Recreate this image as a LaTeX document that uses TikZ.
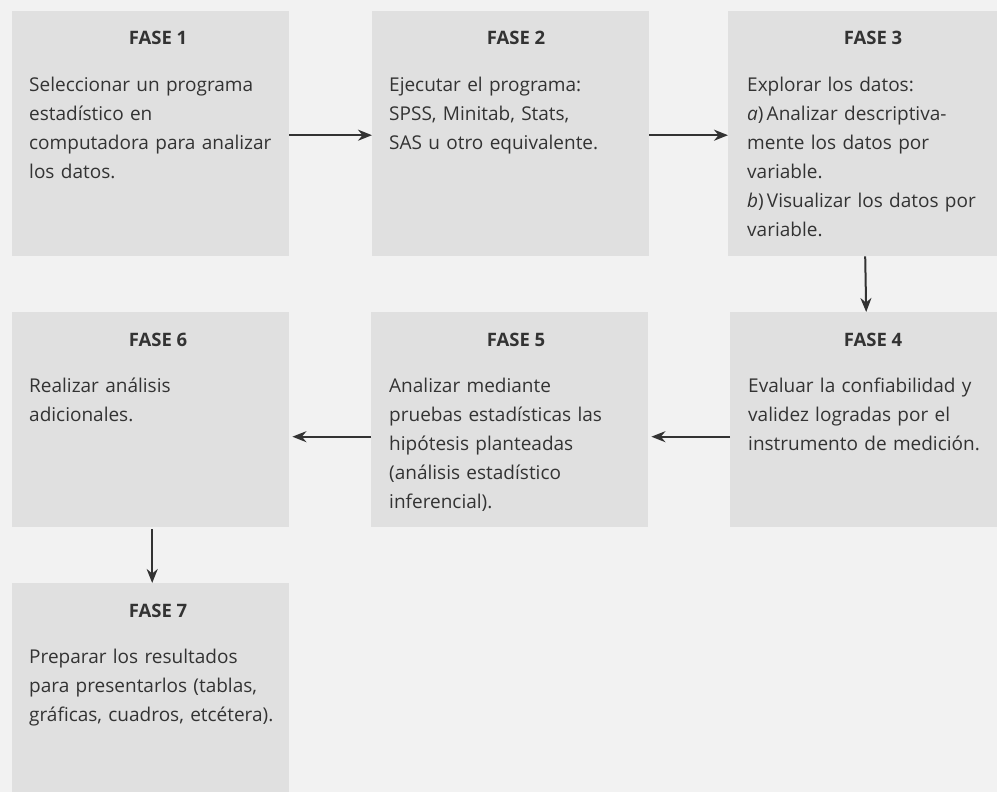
\documentclass[tikz,border=0pt]{standalone}
\usepackage{fontspec}
\setmainfont{Open Sans}
\usetikzlibrary{calc,arrows.meta}
\definecolor{bg}{HTML}{F2F2F2}
\definecolor{boxc}{HTML}{E0E0E0}
\definecolor{ink}{HTML}{333333}
\tikzset{
  phase/.style={fill=boxc, draw=none, inner sep=0pt, anchor=north west},
  ttl/.style={font=\fontsize{18.5}{29}\selectfont\bfseries, text=ink, inner sep=0pt, anchor=base},
  body/.style={font=\fontsize{19}{29}\selectfont, text=ink, inner sep=0pt, anchor=north west, align=left, text width=265pt},
  conn/.style={draw=ink, line width=2pt, -{Stealth[length=14pt,width=11pt]}}
}
\begin{document}
\begin{tikzpicture}[x=1pt,y=-1pt]
\fill[bg] (0,0) rectangle (997,792);
\useasboundingbox (0,0) rectangle (997,792);
% boxes
\node[phase, minimum width=277pt, minimum height=245pt] (f1) at (12,11) {};
\node[phase, minimum width=277pt, minimum height=245pt] (f2) at (372,11) {};
\node[phase, minimum width=269pt, minimum height=245pt] (f3) at (728,11) {};
\node[phase, minimum width=267pt, minimum height=215pt] (f4) at (730,312) {};
\node[phase, minimum width=277pt, minimum height=215pt] (f5) at (371,312) {};
\node[phase, minimum width=277pt, minimum height=215pt] (f6) at (12,312) {};
\node[phase, minimum width=277pt, minimum height=209pt] (f7) at (12,583) {};
% titles
\node[ttl] (t1) at (158,45) {FASE 1};
\node[ttl] (t2) at (516,45) {FASE 2};
\node[ttl] (t3) at (873,45) {FASE 3};
\node[ttl] (t4) at (873,346) {FASE 4};
\node[ttl] (t5) at (516,346) {FASE 5};
\node[ttl] (t6) at (158,346) {FASE 6};
\node[ttl] (t7) at (158,617) {FASE 7};
% bodies
\node[body] (b1) at (29,71) {\strut Seleccionar un programa\\estadístico en\\computadora para analizar\\los datos.};
\node[body] (b2) at (389,71) {\strut Ejecutar el programa:\\SPSS, Minitab, Stats,\\SAS u otro equivalente.};
\node[body] (b3) at (747,71) {\strut Explorar los datos:\par
\hangindent=21pt\hangafter=1\noindent\textit{a})\,Analizar descriptiva-\\mente los datos por\\variable.\par
\hangindent=21pt\hangafter=1\noindent\textit{b})\,Visualizar los datos por\\variable.};
\node[body] (b4) at (748,372) {\strut Evaluar la confiabilidad y\\validez logradas por el\\instrumento de medición.};
\node[body] (b5) at (389,372) {\strut Analizar mediante\\pruebas estadísticas las\\hipótesis planteadas\\(análisis estadístico\\inferencial).};
\node[body] (b6) at (29,372) {\strut Realizar análisis\\adicionales.};
\node[body] (b7) at (29,643) {\strut Preparar los resultados\\para presentarlos (tablas,\\gráficas, cuadros, etcétera).};
% connectors
\draw[conn] ([yshift=-1.5pt]f1.east) -- ([yshift=-1.5pt]f2.west);
\draw[conn] ([yshift=-1.5pt]f2.east) -- ([yshift=-1.5pt]f3.west);
\draw[conn] ([xshift=2.5pt]f3.south) -- ([xshift=2.5pt]f4.north);
\draw[conn] ([yshift=-17pt]f4.west) -- ([xshift=3pt,yshift=-17pt]f5.east);
\draw[conn] ([yshift=-17pt]f5.west) -- ([xshift=3pt,yshift=-17pt]f6.east);
\draw[conn] ([xshift=1.5pt,yshift=-2pt]f6.south) -- ([xshift=1.5pt]f7.north);
\end{tikzpicture}
\end{document}
